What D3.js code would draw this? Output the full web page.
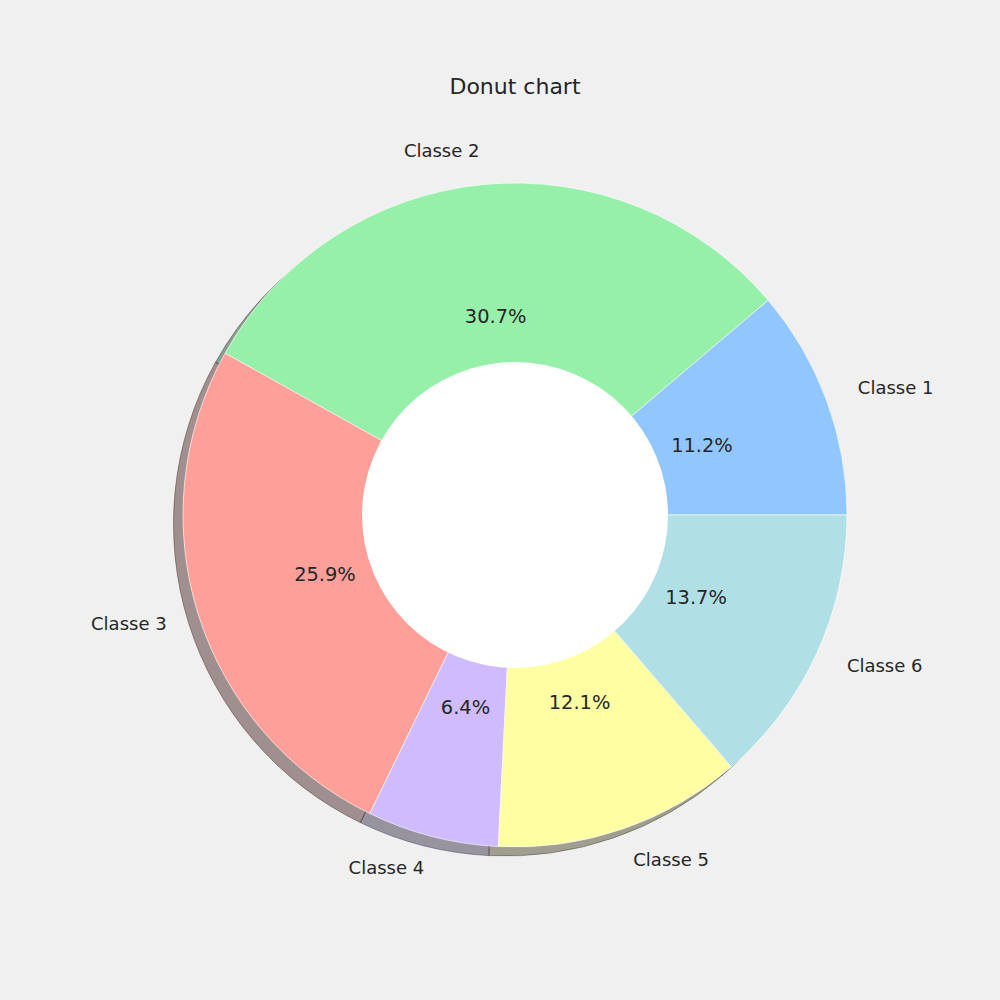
<!DOCTYPE html>
<html>
<head>
<meta charset="utf-8">
<script src="https://cdn.jsdelivr.net/npm/d3@7"></script>
<style>
  html, body { margin: 0; padding: 0; background: #f0f0f0; }
  svg { display: block; font-family: "DejaVu Sans", sans-serif; }
</style>
</head>
<body>
<script>
const categories = ["Classe 1", "Classe 2", "Classe 3", "Classe 4", "Classe 5", "Classe 6"];
const values = [11.2, 30.7, 25.9, 6.4, 12.1, 13.7];
const colors = ["#92c6ff", "#97f0aa", "#ff9f9a", "#d0bbff", "#fffea3", "#b0e0e6"];
const title = "Donut chart";

const W = 1000, H = 1000;
const cx = 515, cy = 515, R = 332, innerR = 153;
const shadowDx = -9.5, shadowDy = 9;

const svg = d3.select("body").append("svg").attr("width", W).attr("height", H);
svg.append("rect").attr("width", W).attr("height", H).attr("fill", "#f0f0f0");

const data = categories.map((c, i) => ({ label: c, value: values[i], color: colors[i] }));
const pie = d3.pie().value(d => d.value).sort(null)
  .startAngle(Math.PI / 2).endAngle(Math.PI / 2 - 2 * Math.PI);
const arcs = pie(data);
const arc = d3.arc().innerRadius(0).outerRadius(R);

const g = svg.append("g").attr("transform", `translate(${cx},${cy})`);

// shadows
const shade = d => { const c = d3.rgb(d.data.color); return d3.rgb(c.r * 0.3, c.g * 0.3, c.b * 0.3); };
const sg = g.append("g").attr("transform", `translate(${shadowDx},${shadowDy})`);
sg.selectAll("path").data(arcs).join("path")
  .attr("d", arc)
  .attr("fill", shade)
  .attr("fill-opacity", 0.5)
  .attr("stroke", shade)
  .attr("stroke-opacity", 0.5)
  .attr("stroke-width", 1);

// wedges
g.append("g").selectAll("path").data(arcs).join("path")
  .attr("d", arc)
  .attr("fill", d => d.data.color)
  .attr("stroke", "#ffffff")
  .attr("stroke-opacity", 0.8)
  .attr("stroke-width", 0.8);

// center hole
g.append("circle").attr("r", innerR).attr("fill", "#ffffff");

const mid = d => (d.startAngle + d.endAngle) / 2;
const txtColor = "#262626";

// labels
g.append("g").selectAll("text").data(arcs).join("text")
  .attr("x", d => 1.1 * R * Math.sin(mid(d)))
  .attr("y", d => -1.1 * R * Math.cos(mid(d)))
  .attr("dy", "0.28em")
  .attr("text-anchor", d => Math.sin(mid(d)) > 0 ? "start" : "end")
  .attr("font-size", 18)
  .attr("fill", txtColor)
  .text(d => d.data.label);

// percents
g.append("g").selectAll("text").data(arcs).join("text")
  .attr("x", d => 0.6 * R * Math.sin(mid(d)))
  .attr("y", d => -0.6 * R * Math.cos(mid(d)))
  .attr("dy", "0.3em")
  .attr("text-anchor", "middle")
  .attr("font-size", 19.4)
  .attr("fill", txtColor)
  .text(d => d.data.value.toFixed(1) + "%");

svg.append("text")
  .attr("x", cx).attr("y", 86).attr("dy", "0.35em")
  .attr("text-anchor", "middle")
  .attr("font-size", 22)
  .attr("fill", txtColor)
  .text(title);
</script>
</body>
</html>
